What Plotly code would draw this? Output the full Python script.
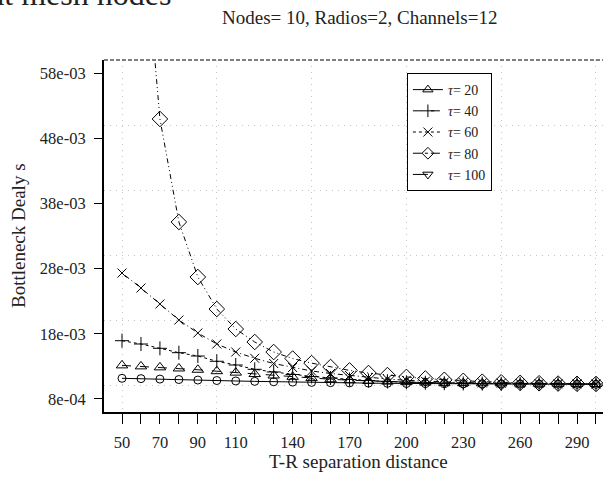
import plotly.graph_objects as go

# ---------------- data ----------------
distance = list(range(50, 310, 10))

delay_circle = [0.01117, 0.01112, 0.01105, 0.01098, 0.01090, 0.01083, 0.01076, 0.01070,
                0.01064, 0.01059, 0.01054, 0.01050, 0.01046, 0.01043, 0.01040, 0.01037,
                0.01035, 0.01033, 0.01031, 0.01030, 0.01029, 0.01028, 0.01027, 0.01026,
                0.01025, 0.01025]
delay_triangle = [0.01315, 0.01300, 0.01285, 0.01268, 0.01248, 0.01226, 0.01204, 0.01182,
                  0.01160, 0.01140, 0.01120, 0.01102, 0.01088, 0.01076, 0.01066, 0.01058,
                  0.01052, 0.01047, 0.01043, 0.01040, 0.01037, 0.01035, 0.01033, 0.01032,
                  0.01031, 0.01030]
delay_plus = [0.01694, 0.01643, 0.01577, 0.01510, 0.01459, 0.01378, 0.01321, 0.01255,
              0.01214, 0.01175, 0.01145, 0.01122, 0.01099, 0.01083, 0.01068, 0.01056,
              0.01048, 0.01042, 0.01038, 0.01035, 0.01033, 0.01032, 0.01031, 0.01030,
              0.01030, 0.01030]
delay_x = [0.02732, 0.02502, 0.02257, 0.02011, 0.01812, 0.01643, 0.01520, 0.01424,
           0.01344, 0.01283, 0.01229, 0.01191, 0.01160, 0.01129, 0.01106, 0.01086,
           0.01072, 0.01060, 0.01052, 0.01046, 0.01041, 0.01038, 0.01035, 0.01033,
           0.01032, 0.01030]
delay_diamond = [0.16000, 0.08500, 0.05095, 0.03515, 0.02671, 0.02180, 0.01873, 0.01674,
                 0.01520, 0.01420, 0.01350, 0.01290, 0.01238, 0.01198, 0.01166, 0.01138,
                 0.01114, 0.01094, 0.01078, 0.01065, 0.01055, 0.01047, 0.01041, 0.01036,
                 0.01032, 0.01030]

legend_names = ["<i>τ</i>= 20", "<i>τ</i>= 40", "<i>τ</i>= 60", "<i>τ</i>= 80", "<i>τ</i>= 100"]
legend_symbols = ["triangle-up-open", "cross-thin-open", "x-thin-open", "diamond-open", "triangle-down-open"]
legend_dashes = ["solid", "dash", "dot", "dashdot", "longdash"]

x_tick_vals = list(range(50, 310, 10))
x_labelled = [50, 70, 90, 110, 140, 170, 200, 230, 260, 290]
x_tick_text = [str(v) if v in x_labelled else "" for v in x_tick_vals]
x_grid_vals = [50, 100, 150, 200, 250, 300]

y_tick_vals = [0.008, 0.018, 0.028, 0.038, 0.048, 0.058]
y_tick_text = ["8e-04", "18e-03", "28e-03", "38e-03", "48e-03", "58e-03"]
y_grid_vals = [0.01, 0.02, 0.03, 0.04, 0.05]

FONT = "Liberation Serif"
GRID = "#c4c4c4"
GRIDDASH = "1px,5px"

# ---------------- figure ----------------
fig = go.Figure()

# empty trace so the overlaid grid axis is drawn
fig.add_trace(go.Scatter(x=[None], y=[None], xaxis="x2", yaxis="y",
                         showlegend=False, hoverinfo="skip"))

series = [
    (delay_circle, "circle-open", 8, "solid"),
    (delay_triangle, "triangle-up-open", 10, "dash"),
    (delay_plus, "cross-thin-open", 10, "dot"),
    (delay_x, "x-thin-open", 9, "1px,3px,5px,3px"),
    (delay_diamond, "diamond-open", 12, "5px,3px,1px,3px,1px,3px"),
]
for ys, sym, size, dash in series:
    fig.add_trace(go.Scatter(
        x=distance, y=ys, mode="lines+markers", showlegend=False,
        line=dict(color="black", width=1, dash=dash),
        marker=dict(symbol=sym, size=size, color="black", line=dict(color="black", width=1)),
    ))

for name, sym, dash in zip(legend_names, legend_symbols, legend_dashes):
    fig.add_trace(go.Scatter(
        x=[None], y=[None], mode="lines+markers", name=name,
        line=dict(color="black", width=1, dash=dash),
        marker=dict(symbol=sym, size=9, color="black", line=dict(color="black", width=1)),
    ))

fig.update_layout(
    width=603, height=481,
    margin=dict(l=104, r=0, t=60, b=69),
    paper_bgcolor="white", plot_bgcolor="white",
    font=dict(family=FONT, size=16, color="#222"),
    xaxis=dict(
        range=[40.5, 303.7], tickmode="array", tickvals=x_tick_vals, ticktext=x_tick_text,
        ticks="outside", ticklen=10, tickwidth=1, tickcolor="black",
        showline=True, linecolor="black", linewidth=2,
        showgrid=False, zeroline=False, ticklabelstandoff=4,
        tickfont=dict(family=FONT, size=16.5, color="#222"),
    ),
    xaxis2=dict(
        range=[40.5, 303.7], overlaying="x", anchor="y", side="bottom", tickmode="array",
        tickvals=x_grid_vals, showticklabels=False, ticks="",
        showgrid=True, gridcolor=GRID, griddash=GRIDDASH, gridwidth=1,
        zeroline=False, showline=False,
    ),
    yaxis=dict(
        range=[0.006, 0.060], tickmode="array", tickvals=y_tick_vals, ticktext=y_tick_text,
        ticks="outside", ticklen=8, tickwidth=1, tickcolor="black",
        showline=True, linecolor="black", linewidth=2,
        showgrid=False, zeroline=False, ticklabelstandoff=5,
        tickfont=dict(family=FONT, size=16.5, color="#222"),
        minor=dict(tickmode="array", tickvals=y_grid_vals, ticks="", showgrid=True,
                   gridcolor=GRID, griddash=GRIDDASH, gridwidth=1),
    ),
    legend=dict(
        x=0.607, y=0.963, xanchor="left", yanchor="top",
        bgcolor="white", bordercolor="black", borderwidth=1,
        font=dict(family=FONT, size=14, color="#222"),
        tracegroupgap=0, entrywidth=70, entrywidthmode="pixels",
    ),
    shapes=[dict(type="line", xref="paper", yref="paper", x0=0, x1=1, y0=1, y1=1,
                 line=dict(color="black", width=1, dash="4px,2px"))],
    annotations=[
        dict(text="Bottleneck Delay at mesh nodes", xref="paper", yref="paper",
             x=0.1383, y=1.1307, xanchor="right", yanchor="bottom", showarrow=False,
             font=dict(family=FONT, size=32, color="#222")),
        dict(text="Nodes= 10, Radios=2, Channels=12", xref="paper", yref="paper",
             x=0.512, y=1.122, xanchor="center", yanchor="middle", showarrow=False,
             font=dict(family=FONT, size=19, color="#222")),
        dict(text="T-R separation distance", xref="paper", yref="paper",
             x=0.511, y=-0.142, xanchor="center", yanchor="middle", showarrow=False,
             font=dict(family=FONT, size=19, color="#222")),
        dict(text="Bottleneck Dealy s", xref="paper", yref="paper", textangle=-90,
             x=-0.1723, y=0.5, xanchor="center", yanchor="middle", showarrow=False,
             font=dict(family=FONT, size=19, color="#222")),
    ],
)

fig.write_html("out.html")
